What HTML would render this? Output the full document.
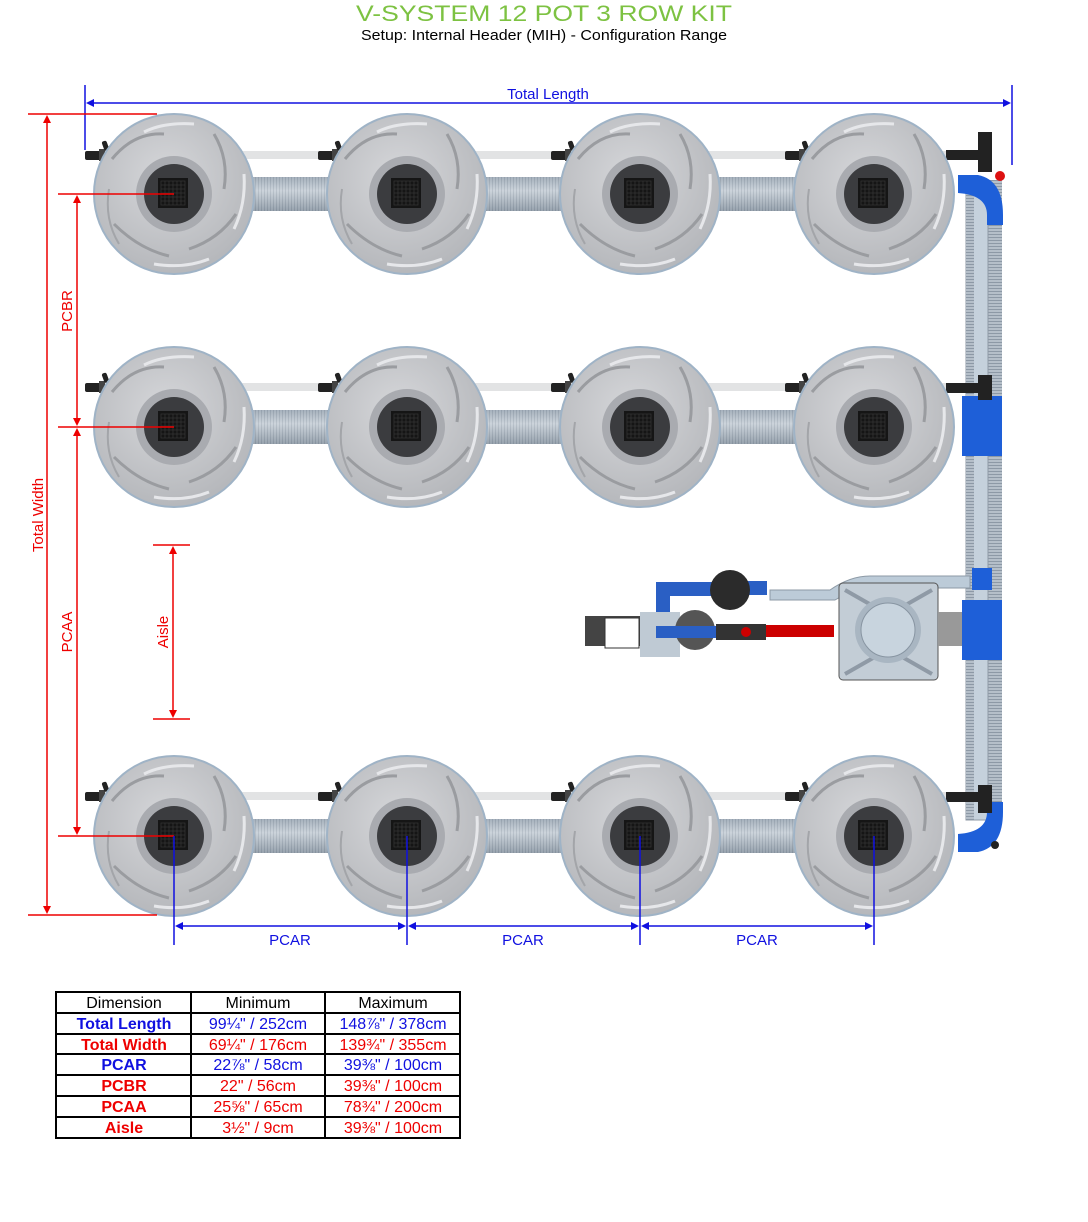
<!DOCTYPE html>
<html><head><meta charset="utf-8"><style>
body{margin:0;background:#fff;}
svg{display:block;font-family:"Liberation Sans",Arial,sans-serif;}
</style></head><body>
<svg width="1088" height="1222" viewBox="0 0 1088 1222" xmlns="http://www.w3.org/2000/svg">
<defs>
<pattern id="rib" width="3" height="10" patternUnits="userSpaceOnUse">
<rect width="3" height="10" fill="#b5bfc9"/><rect width="1" height="10" fill="#8d99a6"/></pattern>
<pattern id="ribv" width="10" height="3" patternUnits="userSpaceOnUse">
<rect width="10" height="3" fill="#b5bfc9"/><rect width="10" height="1" fill="#8d99a6"/></pattern>
<linearGradient id="tube" x1="0" y1="0" x2="0" y2="1">
<stop offset="0" stop-color="#9aa6b2"/><stop offset="0.4" stop-color="#dfe5ea"/><stop offset="1" stop-color="#7f8b97"/></linearGradient>
<radialGradient id="potg" cx="0.45" cy="0.4" r="0.65">
<stop offset="0" stop-color="#d6d7da"/><stop offset="1" stop-color="#b3b5b9"/></radialGradient>
<g id="pot">
<circle r="80" fill="url(#potg)" stroke="#9fb3c6" stroke-width="2"/>
<path d="M-10,-60 Q-40,-62 -62,-35" fill="none" stroke="#9a9ca0" stroke-width="3"/>
<path d="M40,-60 Q55,-35 50,-5" fill="none" stroke="#9a9ca0" stroke-width="3"/>
<path d="M62,20 Q45,45 15,55" fill="none" stroke="#9a9ca0" stroke-width="3"/>
<path d="M-5,62 Q-35,55 -60,30" fill="none" stroke="#9a9ca0" stroke-width="3"/>
<path d="M-65,-5 Q-70,25 -55,50" fill="none" stroke="#a3a5a9" stroke-width="2"/>
<path d="M20,-70 Q-10,-72 -30,-62" fill="none" stroke="#e6e7ea" stroke-width="3"/>
<path d="M70,-20 Q72,10 60,35" fill="none" stroke="#e6e7ea" stroke-width="3"/>
<path d="M-20,70 Q10,75 35,65" fill="none" stroke="#e6e7ea" stroke-width="3"/>
<circle r="38" fill="#a9abb0"/>
<circle r="30" fill="#3b3c3f"/>
<rect x="-16" y="-16" width="30" height="30" fill="#151515"/>
<path d="M-13,-13h24v24h-24z M-9,-13v24 M-5,-13v24 M-1,-13v24 M3,-13v24 M7,-13v24 M-13,-9h24 M-13,-5h24 M-13,-1h24 M-13,3h24 M-13,7h24" fill="none" stroke="#333" stroke-width="0.8"/>
</g>
<g id="conn">
<rect x="-12" y="-4" width="18" height="9" rx="2" fill="#222"/>
<rect x="2" y="-6" width="6" height="12" fill="#444"/>
<rect x="6" y="-14" width="5" height="10" rx="2" fill="#222" transform="rotate(-20 8 -9)"/>
</g>
</defs>

<text x="544" y="21" text-anchor="middle" font-size="22" fill="#7dc242" textLength="376" lengthAdjust="spacingAndGlyphs">V-SYSTEM 12 POT 3 ROW KIT</text>
<text x="544" y="40" text-anchor="middle" font-size="15" fill="#000" textLength="366" lengthAdjust="spacingAndGlyphs">Setup: Internal Header (MIH) - Configuration Range</text>

<!-- drip lines -->
<g fill="#e2e3e4">
<rect x="95" y="151" width="895" height="8"/>
<rect x="95" y="383" width="880" height="8"/>
<rect x="95" y="792" width="880" height="8"/>
</g>
<g fill="url(#rib)">
<rect x="174" y="177" width="760" height="34"/>
<rect x="174" y="410" width="760" height="34"/>
<rect x="174" y="819" width="760" height="34"/>
</g>
<g fill="url(#tube)" opacity="0.55">
<rect x="174" y="177" width="760" height="34"/>
<rect x="174" y="410" width="760" height="34"/>
<rect x="174" y="819" width="760" height="34"/>
</g>
<!-- vertical header -->
<rect x="988" y="180" width="14" height="640" fill="url(#ribv)"/>
<rect x="966" y="180" width="22" height="640" fill="#c5d1dc" stroke="#8f9aa6"/>
<rect x="966" y="180" width="8" height="640" fill="url(#ribv)"/>
<g fill="#1e5fd8">
<path d="M958,175 h20 q25,5 25,40 v10 h-16 v-10 q0,-20 -29,-22z"/>
<rect x="962" y="396" width="40" height="60"/>
<rect x="972" y="568" width="20" height="22"/>
<rect x="962" y="600" width="40" height="60"/>
<path d="M958,852 h20 q25,-5 25,-40 v-10 h-16 v10 q0,20 -29,22z"/>
</g>
<g fill="#222">
<rect x="978" y="132" width="14" height="40"/>
<rect x="978" y="375" width="14" height="25"/>
<rect x="978" y="785" width="14" height="28"/>
<rect x="946" y="150" width="32" height="10"/>
<rect x="946" y="383" width="32" height="10"/>
<rect x="946" y="792" width="32" height="10"/>
</g>
<circle cx="1000" cy="176" r="5" fill="#d11"/>
<circle cx="995" cy="845" r="4" fill="#222"/>

<!-- pump area -->
<path d="M770,590 h60 q20,-14 40,-14 h100 v12 h-95 q-20,0 -40,12 h-65z" fill="#bccbd8" stroke="#8d9aa6"/>
<rect x="712" y="581" width="55" height="14" fill="#2a5fc4"/>
<path d="M656,582 h60 v14 h-46 v36 h-14z" fill="#2a5fc4"/>
<circle cx="730" cy="590" r="20" fill="#2b2b2b"/>
<rect x="640" y="612" width="40" height="45" fill="#bfcad4"/>
<rect x="585" y="616" width="55" height="30" fill="#444"/>
<rect x="605" y="618" width="34" height="30" fill="#fff" stroke="#333"/>
<circle cx="695" cy="630" r="20" fill="#555"/>
<rect x="656" y="626" width="60" height="12" fill="#2a5fc4"/>
<rect x="716" y="624" width="50" height="16" fill="#333"/>
<rect x="766" y="625" width="68" height="12" fill="#c00"/>
<circle cx="746" cy="632" r="5" fill="#c00"/>
<rect x="839" y="583" width="99" height="97" rx="4" fill="#c3cdd6" stroke="#555"/>
<path d="M845,590 L880,610 M932,590 L897,610 M845,674 L880,654 M932,674 L897,654" stroke="#8f9aa6" stroke-width="4"/>
<circle cx="888" cy="630" r="33" fill="#a9b6c2"/>
<circle cx="888" cy="630" r="27" fill="#c8d4de" stroke="#8895a2"/>
<rect x="938" y="612" width="24" height="34" fill="#999"/>

<g>
<use href="#conn" x="97" y="155"/><use href="#conn" x="330" y="155"/><use href="#conn" x="563" y="155"/><use href="#conn" x="797" y="155"/>
<use href="#conn" x="97" y="387"/><use href="#conn" x="330" y="387"/><use href="#conn" x="563" y="387"/><use href="#conn" x="797" y="387"/>
<use href="#conn" x="97" y="796"/><use href="#conn" x="330" y="796"/><use href="#conn" x="563" y="796"/><use href="#conn" x="797" y="796"/>
<use href="#pot" x="174" y="194"/><use href="#pot" x="407" y="194"/><use href="#pot" x="640" y="194"/><use href="#pot" x="874" y="194"/>
<use href="#pot" x="174" y="427"/><use href="#pot" x="407" y="427"/><use href="#pot" x="640" y="427"/><use href="#pot" x="874" y="427"/>
<use href="#pot" x="174" y="836"/><use href="#pot" x="407" y="836"/><use href="#pot" x="640" y="836"/><use href="#pot" x="874" y="836"/>
</g>

<g stroke="#1010e0" stroke-width="1.5" fill="#1010e0">
<line x1="85" y1="85" x2="85" y2="150"/><line x1="1012" y1="85" x2="1012" y2="165"/>
<line x1="90" y1="103" x2="1007" y2="103"/>
<path d="M86,103 l8,-4 v8z M1011,103 l-8,-4 v8z" stroke="none"/>
</g>
<text x="548" y="99" text-anchor="middle" font-size="15" fill="#1010e0">Total Length</text>

<g stroke="#e00" stroke-width="1.5" fill="#e00">
<line x1="28" y1="114" x2="157" y2="114"/><line x1="28" y1="915" x2="157" y2="915"/>
<line x1="47" y1="118" x2="47" y2="911"/>
<path d="M47,115 l-4,8 h8z M47,914 l-4,-8 h8z" stroke="none"/>
<line x1="58" y1="194" x2="174" y2="194"/><line x1="58" y1="427" x2="174" y2="427"/><line x1="58" y1="836" x2="174" y2="836"/>
<line x1="77" y1="198" x2="77" y2="423"/><line x1="77" y1="431" x2="77" y2="832"/>
<path d="M77,195 l-4,8 h8z M77,426 l-4,-8 h8z M77,428 l-4,8 h8z M77,835 l-4,-8 h8z" stroke="none"/>
<line x1="153" y1="545" x2="190" y2="545"/><line x1="153" y1="719" x2="190" y2="719"/>
<line x1="173" y1="549" x2="173" y2="715"/>
<path d="M173,546 l-4,8 h8z M173,718 l-4,-8 h8z" stroke="none"/>
</g>
<g font-size="15" fill="#e00" text-anchor="middle">
<text transform="translate(43,515) rotate(-90)">Total Width</text>
<text transform="translate(72,311) rotate(-90)">PCBR</text>
<text transform="translate(72,632) rotate(-90)">PCAA</text>
<text transform="translate(168,632) rotate(-90)">Aisle</text>
</g>

<g stroke="#1010e0" stroke-width="1.5" fill="#1010e0">
<line x1="174" y1="836" x2="174" y2="945"/><line x1="407" y1="836" x2="407" y2="945"/>
<line x1="640" y1="836" x2="640" y2="945"/><line x1="874" y1="836" x2="874" y2="945"/>
<line x1="178" y1="926" x2="403" y2="926"/><line x1="411" y1="926" x2="636" y2="926"/><line x1="644" y1="926" x2="870" y2="926"/>
<path d="M175,926 l8,-4 v8z M406,926 l-8,-4 v8z M408,926 l8,-4 v8z M639,926 l-8,-4 v8z M641,926 l8,-4 v8z M873,926 l-8,-4 v8z" stroke="none"/>
</g>
<g font-size="15" fill="#1010e0" text-anchor="middle">
<text x="290" y="945">PCAR</text><text x="523" y="945">PCAR</text><text x="757" y="945">PCAR</text>
</g>

<g stroke="#000" stroke-width="2" fill="none">
<rect x="56" y="992" width="404" height="146"/>
<line x1="191" y1="992" x2="191" y2="1138"/><line x1="325" y1="992" x2="325" y2="1138"/>
<line x1="56" y1="1013" x2="460" y2="1013"/><line x1="56" y1="1034" x2="460" y2="1034"/>
<line x1="56" y1="1054" x2="460" y2="1054"/><line x1="56" y1="1075" x2="460" y2="1075"/>
<line x1="56" y1="1096" x2="460" y2="1096"/><line x1="56" y1="1117" x2="460" y2="1117"/>
</g>
<g font-size="16" text-anchor="middle">
<text x="124" y="1008">Dimension</text><text x="258" y="1008">Minimum</text><text x="393" y="1008">Maximum</text>
<g fill="#1010e0"><text x="124" y="1029" font-weight="bold">Total Length</text><text x="258" y="1029">99¼" / 252cm</text><text x="393" y="1029">148⅞" / 378cm</text></g>
<g fill="#e00"><text x="124" y="1050" font-weight="bold">Total Width</text><text x="258" y="1050">69¼" / 176cm</text><text x="393" y="1050">139¾" / 355cm</text></g>
<g fill="#1010e0"><text x="124" y="1070" font-weight="bold">PCAR</text><text x="258" y="1070">22⅞" / 58cm</text><text x="393" y="1070">39⅜" / 100cm</text></g>
<g fill="#e00"><text x="124" y="1091" font-weight="bold">PCBR</text><text x="258" y="1091">22" / 56cm</text><text x="393" y="1091">39⅜" / 100cm</text></g>
<g fill="#e00"><text x="124" y="1112" font-weight="bold">PCAA</text><text x="258" y="1112">25⅝" / 65cm</text><text x="393" y="1112">78¾" / 200cm</text></g>
<g fill="#e00"><text x="124" y="1133" font-weight="bold">Aisle</text><text x="258" y="1133">3½" / 9cm</text><text x="393" y="1133">39⅜" / 100cm</text></g>
</g>
</svg>
</body></html>
